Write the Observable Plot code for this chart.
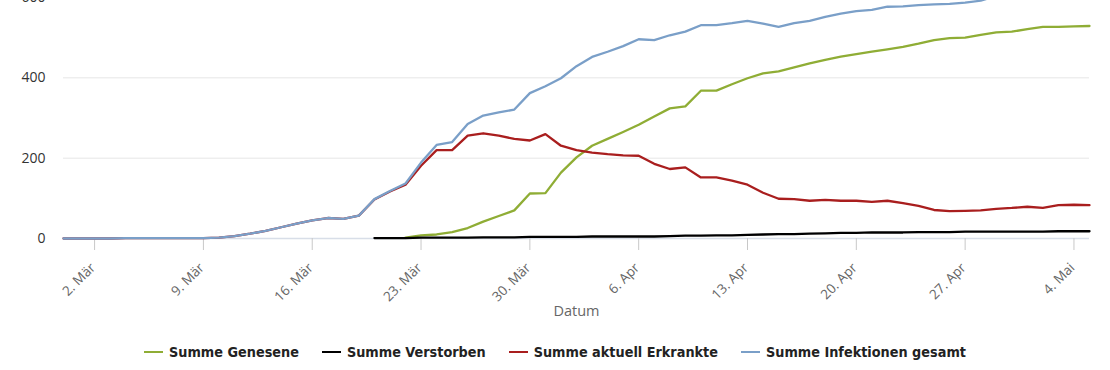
<!DOCTYPE html>
<html>
<head>
<meta charset="utf-8">
<script src="https://cdn.jsdelivr.net/npm/d3@7"></script>
<script src="https://cdn.jsdelivr.net/npm/@observablehq/plot@0.6"></script>
<style>
  body { margin: 0; background: #fff; }
  #wrap { position: relative; width: 1110px; height: 370px; overflow: hidden; background: #fff; }
  #chart { position: absolute; left: 0; top: -20px; }
  #legend { position: absolute; left: 0; top: 344px; width: 1110px; display: flex; justify-content: center; align-items: center;
            font-family: "Liberation Sans Narrow", "DejaVu Sans Condensed", "Roboto Condensed", sans-serif; font-stretch: condensed;
            font-weight: bold; font-size: 14.3px; color: #222; }
  .item { display: flex; align-items: center; margin: 0 11.5px; }
  .sw { width: 19px; height: 2.5px; margin-right: 6px; }
</style>
</head>
<body>
<div id="wrap"><div id="chart"></div><div id="legend"></div></div>
<script>
// ---- data (daily, starting 29 Feb 2020) ----
const startDate = "2020-02-29";
const seriesNames = ["Summe Genesene", "Summe Verstorben", "Summe aktuell Erkrankte", "Summe Infektionen gesamt"];
const seriesColors = ["#8fad35", "#000000", "#a91e1e", "#7a9fc8"];

const infektionen = [0,0,0,0,1,1,1,1,1,1,
  2,6,12,19,28,37,45,51,49,57,
  98,118,137,189,233,240,285,306,314,321,
  362,379,399,429,452,465,479,496,494,506,
  515,531,531,536,542,535,527,536,542,552,
  560,566,569,577,578,581,583,584,587,592,
  604,608,616,620,627,630,631];
const erkrankte = [0,0,0,0,1,1,1,1,1,1,
  2,6,12,19,28,37,45,51,49,57,
  97,117,134,181,220,220,256,262,256,248,
  244,260,231,220,214,210,207,206,186,173,
  177,152,152,144,134,114,99,98,94,96,
  94,94,91,94,88,81,71,68,69,70,
  74,76,79,76,83,84,83];
const genesene = [null,null,null,null,null,null,null,null,null,null,
  null,null,null,null,null,null,null,null,null,null,
  null,null,2,8,10,16,26,42,56,70,
  112,113,164,202,231,248,265,283,304,324,
  329,368,368,384,399,411,416,426,436,445,
  453,459,465,471,477,485,494,499,500,507,
  513,515,521,527,527,528,529];
const verstorben = [null,null,null,null,null,null,null,null,null,null,
  null,null,null,null,null,null,null,null,null,null,
  1,1,1,2,2,2,2,3,3,3,
  4,4,4,4,5,5,5,5,5,6,
  7,7,8,8,9,10,11,11,12,13,
  14,14,15,15,15,16,16,16,17,17,
  17,17,17,17,18,18,18];

const tickDates = ["2020-03-02","2020-03-09","2020-03-16","2020-03-23","2020-03-30","2020-04-06","2020-04-13","2020-04-20","2020-04-27","2020-05-04"];
const tickLabels = ["2. Mär","9. Mär","16. Mär","23. Mär","30. Mär","6. Apr","13. Apr","20. Apr","27. Apr","4. Mai"];
const yTicks = [0, 200, 400, 600];

// ---- build tables ----
const start = new Date(startDate + "T00:00:00Z");
const valueArrays = [genesene, verstorben, erkrankte, infektionen];
const dates = infektionen.map((_, i) => d3.utcDay.offset(start, i));
const tables = valueArrays.map((arr, s) =>
  arr.map((v, i) => ({date: dates[i], value: v, series: seriesNames[s]})).filter(d => d.value !== null));
const ticks = tickDates.map((t, i) => ({date: new Date(t + "T00:00:00Z"), label: tickLabels[i]}));

const chart = Plot.plot({
  width: 1110,
  height: 348,
  marginLeft: 63,
  marginRight: 21,
  marginTop: 17,
  marginBottom: 90,
  style: {fontFamily: "'Open Sans', 'DejaVu Sans', sans-serif", fontSize: "13px", background: "transparent", overflow: "visible"},
  x: {type: "utc", domain: [dates[0], dates[dates.length - 1]], label: null},
  y: {domain: [0, 600], label: null},
  marks: [
    Plot.gridY(yTicks.filter(v => v > 0), {stroke: "#e6e6e6", strokeOpacity: 1, strokeWidth: 1}),
    Plot.ruleY([0], {stroke: "#d8dee8", strokeWidth: 1.5}),
    Plot.axisY(yTicks, {tickSize: 0, tickPadding: 18, fontSize: 14, fill: "#333"}),
    Plot.axisX(ticks.map(d => d.date), {tickSize: 12, text: null, stroke: "#c8c8c8", strokeOpacity: 1}),
    Plot.text(ticks, {x: "date", text: "label", frameAnchor: "bottom", rotate: -45, textAnchor: "end",
      lineAnchor: "middle", dx: -1.5, dy: 27, fontSize: 13.5, fill: "#666"}),
    Plot.text(["Datum"], {frameAnchor: "bottom", dy: 77, fontSize: 14.5, fill: "#666"}),
    ...tables.map((t, s) => Plot.line(t, {x: "date", y: "value", stroke: seriesColors[s], strokeWidth: 2.3}))
  ]
});
document.getElementById("chart").appendChild(chart);

// ---- legend ----
const legend = document.getElementById("legend");
seriesNames.forEach((name, i) => {
  const item = document.createElement("div");
  item.className = "item";
  const sw = document.createElement("span");
  sw.className = "sw";
  sw.style.background = seriesColors[i];
  const tx = document.createElement("span");
  tx.textContent = name;
  item.appendChild(sw);
  item.appendChild(tx);
  legend.appendChild(item);
});
</script>
</body>
</html>
